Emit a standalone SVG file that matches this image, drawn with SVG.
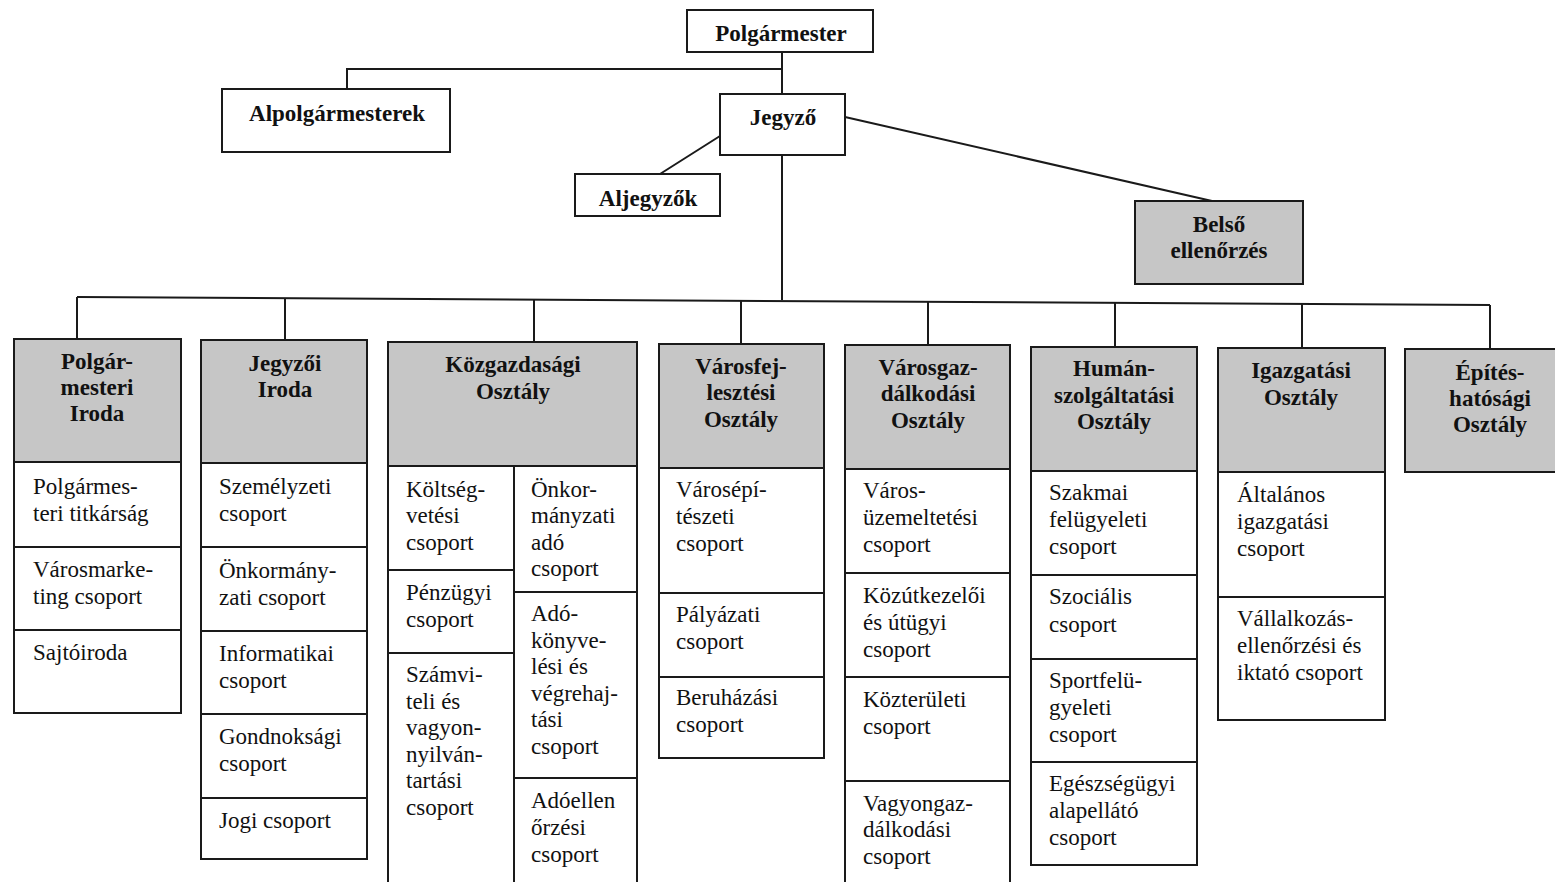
<svg xmlns="http://www.w3.org/2000/svg" width="1555" height="882" viewBox="0 0 1555 882">
<style>
.bx{fill:#fff;stroke:#1a1a1a;stroke-width:2}
.hd{fill:#c6c6c6;stroke:#1a1a1a;stroke-width:2}
.ln{fill:none;stroke:#1a1a1a;stroke-width:2}
.tb{font-family:"Liberation Serif",serif;font-weight:bold;font-size:23px;fill:#111;text-anchor:middle}
.th{font-family:"Liberation Serif",serif;font-weight:bold;font-size:23px;fill:#111;text-anchor:middle}
.t{font-family:"Liberation Serif",serif;font-size:23px;fill:#111}
</style>
<rect width="1555" height="882" fill="#fff"/>
<g id="connectors">
<path class="ln" d="M782,52 V94 M782,69 H347 V89 M720,136 L660,174 M845,117 L1212,201 M782,155 V300"/>
<path class="ln" d="M77,297 L1490,305"/>
<path class="ln" d="M77,297 V339 M285,298 V340 M534,299 V342 M741,300 V344 M928,301 V345 M1115,302 V347 M1302,303 V348 M1490,305 V349"/>
</g>
<g id="polgarmester"><rect class="bx" x="687" y="10" width="186" height="42"/><text class="tb" x="781" y="41">Polgármester</text></g>
<g id="alpolgarmesterek"><rect class="bx" x="222" y="89" width="228" height="63"/><text class="tb" x="337" y="121">Alpolgármesterek</text></g>
<g id="jegyzo"><rect class="bx" x="720" y="94" width="125" height="61"/><text class="tb" x="783" y="125">Jegyző</text></g>
<g id="aljegyzok"><rect class="bx" x="575" y="174" width="145" height="42"/><text class="tb" x="648" y="206">Aljegyzők</text></g>
<g id="belso"><rect class="hd" x="1135" y="201" width="168" height="83"/><text class="tb" x="1219" y="232">Belső</text><text class="tb" x="1219" y="258">ellenőrzés</text></g>

<g id="polgarmesteri-iroda">
<rect class="hd" x="14" y="339" width="167" height="123"/>
<text class="th" x="97" y="369">Polgár-</text><text class="th" x="97" y="395">mesteri</text><text class="th" x="97" y="421">Iroda</text>
<rect class="bx" x="14" y="462" width="167" height="85"/><text class="t" x="33" y="494">Polgármes-</text><text class="t" x="33" y="521">teri titkárság</text>
<rect class="bx" x="14" y="547" width="167" height="83"/><text class="t" x="33" y="577">Városmarke-</text><text class="t" x="33" y="604">ting csoport</text>
<rect class="bx" x="14" y="630" width="167" height="83"/><text class="t" x="33" y="660">Sajtóiroda</text>
</g>

<g id="jegyzoi-iroda">
<rect class="hd" x="201" y="340" width="166" height="123"/>
<text class="th" x="285" y="371">Jegyzői</text><text class="th" x="285" y="397">Iroda</text>
<rect class="bx" x="201" y="463" width="166" height="84"/><text class="t" x="219" y="494">Személyzeti</text><text class="t" x="219" y="521">csoport</text>
<rect class="bx" x="201" y="547" width="166" height="84"/><text class="t" x="219" y="578">Önkormány-</text><text class="t" x="219" y="605">zati csoport</text>
<rect class="bx" x="201" y="631" width="166" height="83"/><text class="t" x="219" y="661">Informatikai</text><text class="t" x="219" y="688">csoport</text>
<rect class="bx" x="201" y="714" width="166" height="84"/><text class="t" x="219" y="744">Gondnoksági</text><text class="t" x="219" y="771">csoport</text>
<rect class="bx" x="201" y="798" width="166" height="61"/><text class="t" x="219" y="828">Jogi csoport</text>
</g>

<g id="kozgazdasagi">
<rect class="hd" x="388" y="342" width="249" height="124"/>
<text class="th" x="513" y="372">Közgazdasági</text><text class="th" x="513" y="399">Osztály</text>
<rect class="bx" x="388" y="466" width="126" height="104"/><text class="t" x="406" y="497">Költség-</text><text class="t" x="406" y="523">vetési</text><text class="t" x="406" y="550">csoport</text>
<rect class="bx" x="388" y="570" width="126" height="83"/><text class="t" x="406" y="600">Pénzügyi</text><text class="t" x="406" y="627">csoport</text>
<rect class="bx" x="388" y="653" width="126" height="230"/><text class="t" x="406" y="682">Számvi-</text><text class="t" x="406" y="709">teli és</text><text class="t" x="406" y="735">vagyon-</text><text class="t" x="406" y="762">nyilván-</text><text class="t" x="406" y="788">tartási</text><text class="t" x="406" y="815">csoport</text>
<rect class="bx" x="514" y="466" width="123" height="126"/><text class="t" x="531" y="497">Önkor-</text><text class="t" x="531" y="523">mányzati</text><text class="t" x="531" y="550">adó</text><text class="t" x="531" y="576">csoport</text>
<rect class="bx" x="514" y="592" width="123" height="186"/><text class="t" x="531" y="621">Adó-</text><text class="t" x="531" y="648">könyve-</text><text class="t" x="531" y="674">lési és</text><text class="t" x="531" y="701">végrehaj-</text><text class="t" x="531" y="727">tási</text><text class="t" x="531" y="754">csoport</text>
<rect class="bx" x="514" y="778" width="123" height="105"/><text class="t" x="531" y="808">Adóellen</text><text class="t" x="531" y="835">őrzési</text><text class="t" x="531" y="862">csoport</text>
</g>

<g id="varosfejlesztesi">
<rect class="hd" x="659" y="344" width="165" height="124"/>
<text class="th" x="741" y="374">Városfej-</text><text class="th" x="741" y="400">lesztési</text><text class="th" x="741" y="427">Osztály</text>
<rect class="bx" x="659" y="468" width="165" height="125"/><text class="t" x="676" y="497">Városépí-</text><text class="t" x="676" y="524">tészeti</text><text class="t" x="676" y="551">csoport</text>
<rect class="bx" x="659" y="593" width="165" height="84"/><text class="t" x="676" y="622">Pályázati</text><text class="t" x="676" y="649">csoport</text>
<rect class="bx" x="659" y="677" width="165" height="81"/><text class="t" x="676" y="705">Beruházási</text><text class="t" x="676" y="732">csoport</text>
</g>

<g id="varosgazdalkodasi">
<rect class="hd" x="845" y="345" width="165" height="124"/>
<text class="th" x="928" y="375">Városgaz-</text><text class="th" x="928" y="401">dálkodási</text><text class="th" x="928" y="428">Osztály</text>
<rect class="bx" x="845" y="469" width="165" height="104"/><text class="t" x="863" y="498">Város-</text><text class="t" x="863" y="525">üzemeltetési</text><text class="t" x="863" y="552">csoport</text>
<rect class="bx" x="845" y="573" width="165" height="104"/><text class="t" x="863" y="603">Közútkezelői</text><text class="t" x="863" y="630">és útügyi</text><text class="t" x="863" y="657">csoport</text>
<rect class="bx" x="845" y="677" width="165" height="104"/><text class="t" x="863" y="707">Közterületi</text><text class="t" x="863" y="734">csoport</text>
<rect class="bx" x="845" y="781" width="165" height="103"/><text class="t" x="863" y="811">Vagyongaz-</text><text class="t" x="863" y="837">dálkodási</text><text class="t" x="863" y="864">csoport</text>
</g>

<g id="humanszolgaltatasi">
<rect class="hd" x="1031" y="347" width="166" height="124"/>
<text class="th" x="1114" y="376">Humán-</text><text class="th" x="1114" y="403">szolgáltatási</text><text class="th" x="1114" y="429">Osztály</text>
<rect class="bx" x="1031" y="471" width="166" height="104"/><text class="t" x="1049" y="500">Szakmai</text><text class="t" x="1049" y="527">felügyeleti</text><text class="t" x="1049" y="554">csoport</text>
<rect class="bx" x="1031" y="575" width="166" height="84"/><text class="t" x="1049" y="604">Szociális</text><text class="t" x="1049" y="632">csoport</text>
<rect class="bx" x="1031" y="659" width="166" height="103"/><text class="t" x="1049" y="688">Sportfelü-</text><text class="t" x="1049" y="715">gyeleti</text><text class="t" x="1049" y="742">csoport</text>
<rect class="bx" x="1031" y="762" width="166" height="103"/><text class="t" x="1049" y="791">Egészségügyi</text><text class="t" x="1049" y="818">alapellátó</text><text class="t" x="1049" y="845">csoport</text>
</g>

<g id="igazgatasi">
<rect class="hd" x="1218" y="348" width="167" height="124"/>
<text class="th" x="1301" y="378">Igazgatási</text><text class="th" x="1301" y="405">Osztály</text>
<rect class="bx" x="1218" y="472" width="167" height="125"/><text class="t" x="1237" y="502">Általános</text><text class="t" x="1237" y="529">igazgatási</text><text class="t" x="1237" y="556">csoport</text>
<rect class="bx" x="1218" y="597" width="167" height="123"/><text class="t" x="1237" y="626">Vállalkozás-</text><text class="t" x="1237" y="653">ellenőrzési és</text><text class="t" x="1237" y="680">iktató csoport</text>
</g>

<g id="epiteshatosagi">
<rect class="hd" x="1405" y="349" width="152" height="123"/>
<text class="th" x="1490" y="380">Építés-</text><text class="th" x="1490" y="406">hatósági</text><text class="th" x="1490" y="432">Osztály</text>
</g>
</svg>
